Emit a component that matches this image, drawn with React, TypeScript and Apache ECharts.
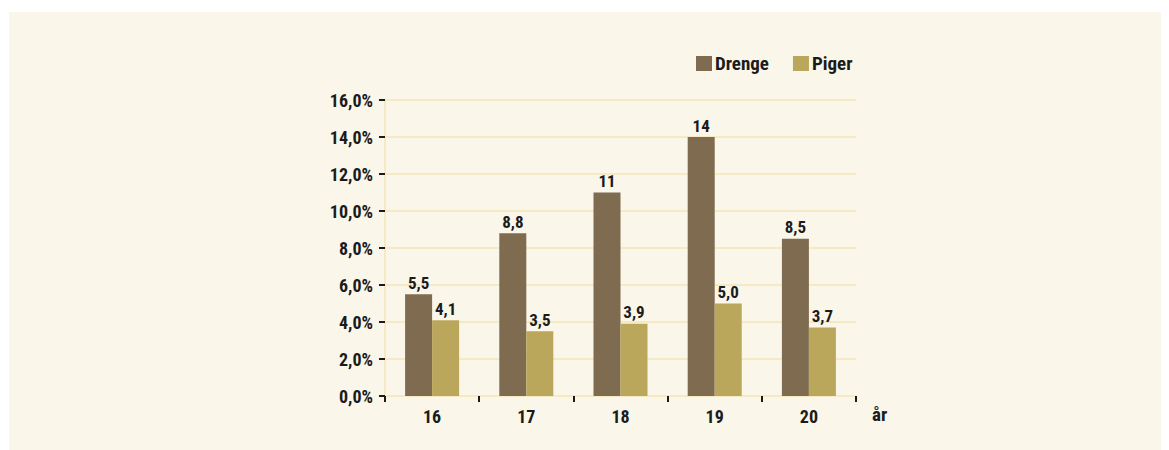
import React, { useEffect, useRef } from "react";
import * as echarts from "echarts";

const categories = ["16", "17", "18", "19", "20"];
const drenge = [5.5, 8.8, 11, 14, 8.5];
const piger = [4.1, 3.5, 3.9, 5.0, 3.7];
const seriesNames = ["Drenge", "Piger"];
const axisName = "år";

const FONT = "'Roboto Condensed', 'Liberation Sans Narrow', sans-serif";
const BG = "#FAF6EA";
const GRID = "#F6EAC4";
const C_DRENGE = "#7F6B50";
const C_PIGER = "#BBA75B";
const TXT = "#1b1b1b";

const fmtComma = (v: number, forceDec: boolean) =>
  !forceDec && Number.isInteger(v) ? String(v) : v.toFixed(1).replace(".", ",");

export default function App() {
  const ref = useRef<HTMLDivElement>(null);
  useEffect(() => {
    if (!ref.current) return;
    const chart = echarts.init(ref.current, null, { renderer: "svg" });
    const labelStyle = {
      show: true,
      position: "top" as const,
      distance: 3,
      color: TXT,
      fontFamily: FONT,
      fontWeight: "bold" as const,
      fontSize: 17,
    };
    chart.setOption({
      animation: false,
      textStyle: { fontFamily: FONT },
      graphic: [
        {
          type: "rect",
          left: 1,
          top: 4,
          z: -10,
          shape: { width: 1161, height: 440 },
          style: { fill: BG },
          silent: true,
        },
      ],
      legend: {
        left: 683,
        top: 41,
        padding: 5,
        itemWidth: 16,
        itemHeight: 15,
        itemGap: 24,
        icon: "rect",
        data: seriesNames,
        textStyle: {
          color: TXT,
          fontFamily: FONT,
          fontWeight: "bold",
          fontSize: 19,
          padding: [0, 0, 0, -2],
        },
      },
      grid: { left: 377, top: 92, right: 313, bottom: 54, containLabel: false },
      xAxis: {
        type: "category",
        data: categories,
        boundaryGap: true,
        name: axisName,
        nameLocation: "end",
        nameGap: 16,
        nameTextStyle: {
          color: TXT,
          fontFamily: FONT,
          fontWeight: "bold",
          fontSize: 19,
          verticalAlign: "top",
          padding: [9, 0, 0, 0],
        },
        axisLine: { show: true, lineStyle: { color: GRID, width: 2 } },
        axisTick: { show: true, length: 6, lineStyle: { color: TXT, width: 2 } },
        axisLabel: {
          color: TXT,
          fontFamily: FONT,
          fontWeight: "bold",
          fontSize: 18,
          margin: 11,
        },
        splitLine: { show: false },
      },
      yAxis: {
        type: "value",
        min: 0,
        max: 16,
        interval: 2,
        axisLine: { show: true, lineStyle: { color: GRID, width: 2 } },
        axisTick: { show: true, length: 6, lineStyle: { color: TXT, width: 2 } },
        axisLabel: {
          color: TXT,
          fontFamily: FONT,
          fontWeight: "bold",
          fontSize: 18,
          margin: 12,
          formatter: (v: number) => v.toFixed(1).replace(".", ",") + "%",
        },
        splitLine: { show: true, lineStyle: { color: GRID, width: 2 } },
      },
      series: [
        {
          name: seriesNames[0],
          type: "bar",
          data: drenge,
          barWidth: 27,
          barGap: "0%",
          itemStyle: { color: C_DRENGE },
          label: { ...labelStyle, formatter: (p: any) => fmtComma(p.value, false) },
        },
        {
          name: seriesNames[1],
          type: "bar",
          data: piger,
          barWidth: 27,
          barGap: "0%",
          itemStyle: { color: C_PIGER },
          label: { ...labelStyle, formatter: (p: any) => fmtComma(p.value, true) },
        },
      ],
    });
    return () => chart.dispose();
  }, []);
  return <div ref={ref} style={{ width: 1161, height: 442 }} />;
}
